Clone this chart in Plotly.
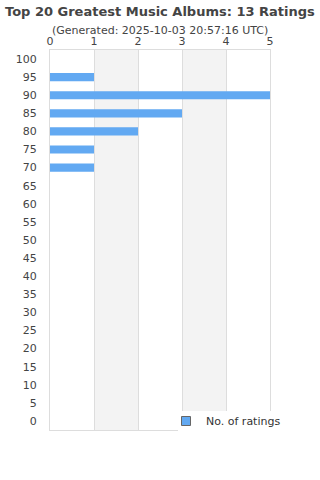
import plotly.graph_objects as go

categories = [str(v) for v in range(0, 101, 5)]
ratings = [0, 0, 0, 0, 0, 0, 0, 0, 0, 0, 0, 0, 0, 0, 1, 1, 2, 3, 5, 1, 0]
x_ticks = [0, 1, 2, 3, 4, 5]

FONT = "DejaVu Sans, Open Sans, sans-serif"
BLUE = "#62a9f2"
fig = go.Figure()
fig.add_trace(go.Bar(
    x=ratings, y=categories, orientation="h",
    name="No. of ratings",
    marker=dict(color=BLUE, line=dict(width=0)),
    showlegend=False,
))
fig.add_trace(go.Scatter(
    x=[None], y=[None], mode="markers", name="No. of ratings",
    marker=dict(symbol="square", size=9, color=BLUE, line=dict(color="#666", width=1)),
    showlegend=True,
))

W, H, L, R, T, B = 320, 480, 50, 50, 50, 50
pw, ph = W - L - R, H - T - B
def px(x):
    return (x - L) / pw
def py(y):
    return (H - B - y) / ph

shapes = []
for a in (1, 3):
    shapes.append(dict(type="rect", xref="x", yref="paper", x0=a, x1=a + 1, y0=0, y1=1,
                       fillcolor="#f3f3f3", line=dict(width=0), layer="below"))
# legend background box
shapes.append(dict(type="rect", xref="paper", yref="paper", x0=px(178), x1=px(321),
                   y0=py(433), y1=py(411), fillcolor="white", line=dict(width=0),
                   layer="above"))

fig.update_layout(
    width=W, height=H,
    margin=dict(l=L, r=R, t=T, b=B),
    paper_bgcolor="white", plot_bgcolor="white",
    font=dict(family=FONT, size=11, color="#444"),
    bargap=0.55,
    shapes=shapes,
    showlegend=True,
    legend=dict(x=px(166), xanchor="left", y=py(421), yanchor="middle",
                bgcolor="rgba(0,0,0,0)", font=dict(size=11, color="#333"),
                itemwidth=30),
    annotations=[
        dict(text="<b>Top 20 Greatest Music Albums: 13 Ratings</b>", x=0.5, xref="paper",
             y=py(11), yref="paper", yanchor="middle", showarrow=False,
             font=dict(size=13, color="#444")),
        dict(text="(Generated: 2025-10-03 20:57:16 UTC)", x=0.5, xref="paper",
             y=py(30), yref="paper", yanchor="middle", showarrow=False,
             font=dict(size=11, color="#444")),
    ],
)

fig.update_xaxes(side="top", range=[0, 5], tickvals=x_ticks, showgrid=True,
                 gridcolor="#dddddd", showline=True, linecolor="#dddddd", mirror=True,
                 zeroline=False, ticks="", tickfont=dict(size=11, color="#444"),
                 ticklabelstandoff=0, fixedrange=True)
fig.update_yaxes(type="category", categoryorder="array", categoryarray=categories,
                 showgrid=False, showline=True, linecolor="#dddddd", mirror=True,
                 ticks="", ticklabelstandoff=10, tickfont=dict(size=11, color="#444"),
                 range=[-0.5, 20.5])

fig.write_html("out.html")
